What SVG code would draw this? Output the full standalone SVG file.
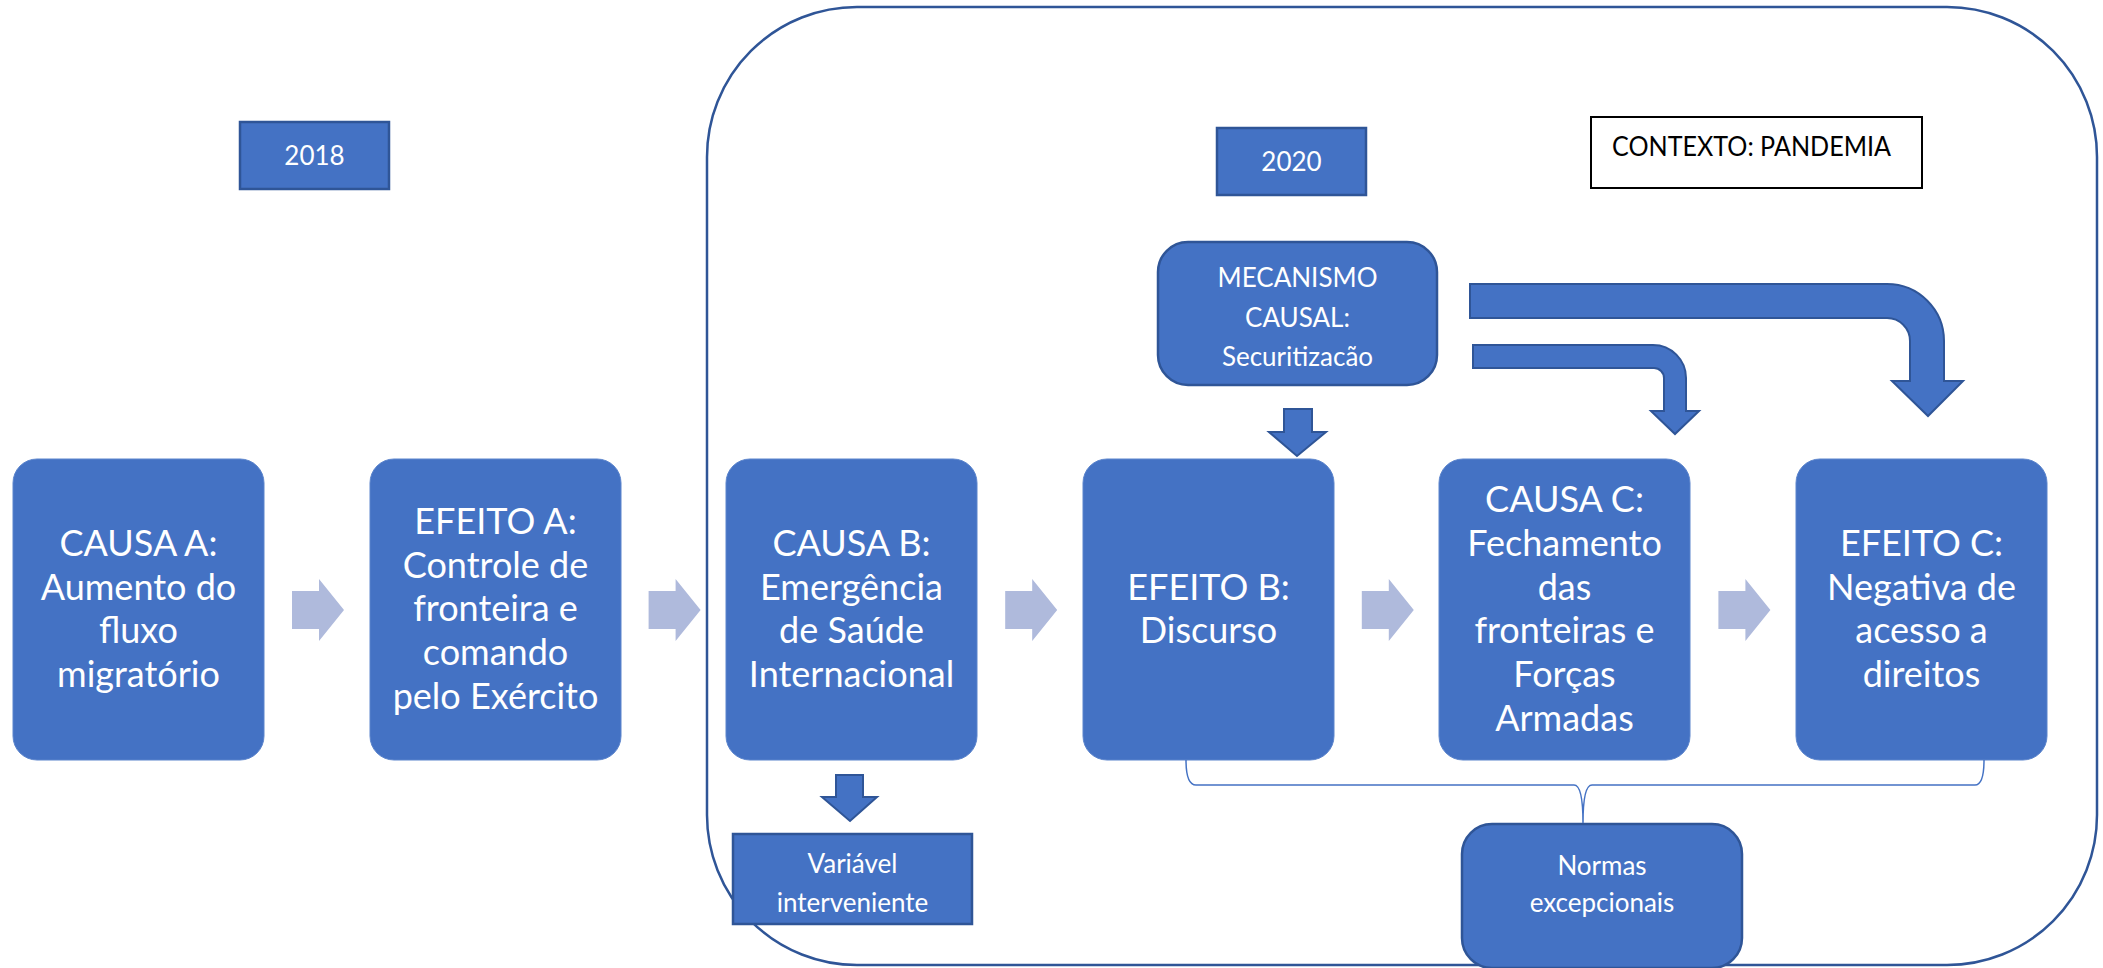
<svg xmlns="http://www.w3.org/2000/svg" width="2103" height="968" viewBox="0 0 2103 968">
<style>
.bg{fill:#ffffff}
.frame{fill:none;stroke:#2F5597;stroke-width:2.5}
.node{fill:#4472C4;stroke:#5B84CC;stroke-width:1}
.box{fill:#4472C4;stroke:#2F5597;stroke-width:2.5}
.ctx{fill:#ffffff;stroke:#000000;stroke-width:2}
.big{font-family:Lato,"Liberation Sans",Arial,sans-serif;font-size:36px;fill:#ffffff;text-anchor:middle}
.small{font-family:Lato,"Liberation Sans",Arial,sans-serif;font-size:26px;fill:#ffffff;text-anchor:middle}
.black{font-family:Lato,"Liberation Sans",Arial,sans-serif;font-size:27px;fill:#000000}
.light{fill:#AFBADC}
.blue{fill:#4472C4;stroke:#2F5597;stroke-width:2}
.brace{fill:none;stroke:#4472C4;stroke-width:1.5}
</style>
<rect class="bg" x="0" y="0" width="2103" height="968"/>
<rect class="frame" x="707" y="7" width="1390" height="958" rx="150" ry="150"/>

<g id="year2018">
<rect class="box" x="240" y="122" width="149" height="67"/>
<text class="small" x="314.5" y="165">2018</text>
</g>
<g id="year2020">
<rect class="box" x="1217" y="128" width="149" height="67"/>
<text class="small" x="1291.5" y="171">2020</text>
</g>
<g id="contexto">
<rect class="ctx" x="1591" y="117" width="331" height="71"/>
<text class="black" x="1612" y="156" textLength="279" lengthAdjust="spacingAndGlyphs">CONTEXTO: PANDEMIA</text>
</g>
<g id="mecanismo">
<rect class="box" x="1158" y="242" width="279" height="143" rx="30" ry="30"/>
<text class="small" x="1297.5" y="287">MECANISMO</text>
<text class="small" x="1297.5" y="327">CAUSAL:</text>
<text class="small" x="1297.5" y="366">Securitizacão</text>
</g>

<g id="causaA">
<rect class="node" x="13" y="459" width="251" height="301" rx="24" ry="24"/>
<text class="big" x="138.5" y="556">CAUSA A:</text>
<text class="big" x="138.5" y="600">Aumento do</text>
<text class="big" x="138.5" y="643">fluxo</text>
<text class="big" x="138.5" y="687">migratório</text>
</g>
<g id="efeitoA">
<rect class="node" x="370" y="459" width="251" height="301" rx="24" ry="24"/>
<text class="big" x="495.5" y="534">EFEITO A:</text>
<text class="big" x="495.5" y="578">Controle de</text>
<text class="big" x="495.5" y="621">fronteira e</text>
<text class="big" x="495.5" y="665">comando</text>
<text class="big" x="495.5" y="709">pelo Exército</text>
</g>
<g id="causaB">
<rect class="node" x="726" y="459" width="251" height="301" rx="24" ry="24"/>
<text class="big" x="851.5" y="556">CAUSA B:</text>
<text class="big" x="851.5" y="600">Emergência</text>
<text class="big" x="851.5" y="643">de Saúde</text>
<text class="big" x="851.5" y="687">Internacional</text>
</g>
<g id="efeitoB">
<rect class="node" x="1083" y="459" width="251" height="301" rx="24" ry="24"/>
<text class="big" x="1208.5" y="600">EFEITO B:</text>
<text class="big" x="1208.5" y="643">Discurso</text>
</g>
<g id="causaC">
<rect class="node" x="1439" y="459" width="251" height="301" rx="24" ry="24"/>
<text class="big" x="1564.5" y="512">CAUSA C:</text>
<text class="big" x="1564.5" y="556">Fechamento</text>
<text class="big" x="1564.5" y="600">das</text>
<text class="big" x="1564.5" y="643">fronteiras e</text>
<text class="big" x="1564.5" y="687">Forças</text>
<text class="big" x="1564.5" y="731">Armadas</text>
</g>
<g id="efeitoC">
<rect class="node" x="1796" y="459" width="251" height="301" rx="24" ry="24"/>
<text class="big" x="1921.5" y="556">EFEITO C:</text>
<text class="big" x="1921.5" y="600">Negativa de</text>
<text class="big" x="1921.5" y="643">acesso a</text>
<text class="big" x="1921.5" y="687">direitos</text>
</g>
<g id="variavel">
<rect class="box" x="733" y="834" width="239" height="90"/>
<text class="small" x="852.5" y="873">Variável</text>
<text class="small" x="852.5" y="912">interveniente</text>
</g>
<g id="normas">
<rect class="box" x="1462" y="824" width="280" height="144" rx="30" ry="30"/>
<text class="small" x="1602" y="875">Normas</text>
<text class="small" x="1602" y="912">excepcionais</text>
</g>

<g id="connectors">
<path id="flow" class="light" d="M292,591 L319,591 L319,579 L344,610 L319,641 L319,629 L292,629 Z"/>
<use href="#flow" x="356.6"/>
<use href="#flow" x="713.2"/>
<use href="#flow" x="1069.8"/>
<use href="#flow" x="1426.4"/>
<path class="blue" d="M1284,409 L1312,409 L1312,432 L1326,432 L1297,456 L1269,432 L1284,432 Z"/>
<path class="blue" d="M836,775 L863,775 L863,797 L877,797 L850,821 L822,797 L836,797 Z"/>
<path class="blue" d="M1470,284 L1887,284 A57,57 0 0 1 1944,341 L1944,381 L1963,381 L1928,416 L1892,381 L1910,381 L1910,341 A23,23 0 0 0 1887,318 L1470,318 Z"/>
<path class="blue" d="M1473,345 L1653,345 A33,33 0 0 1 1686,378 L1686,411 L1699,411 L1675,434 L1651,411 L1664,411 L1664,378 A10,10 0 0 0 1654,368 L1473,368 Z"/>
<path class="brace" d="M1186,760 Q1186,785 1196,785 L1574,785 Q1583,785 1583,823 Q1583,785 1592,785 L1975,785 Q1984,785 1984,760"/>
</g>
</svg>
